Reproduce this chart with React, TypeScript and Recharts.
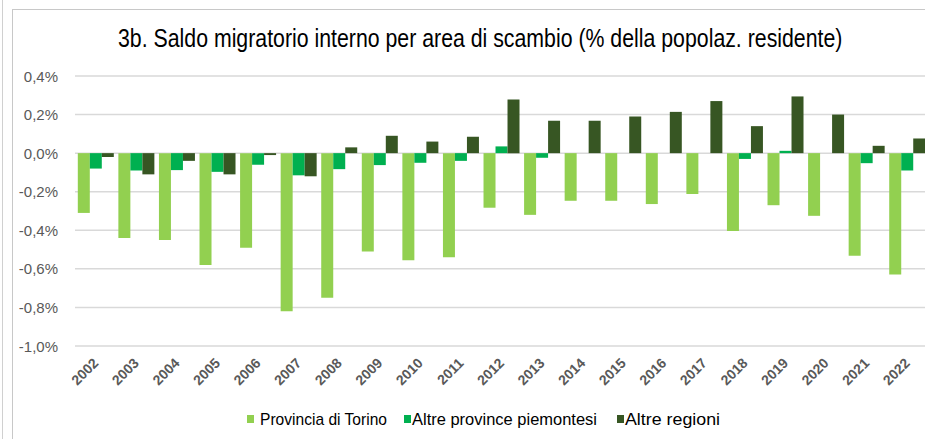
import React, { useLayoutEffect, useRef, useState } from 'react';
import { BarChart, Bar, XAxis, YAxis, CartesianGrid } from 'recharts';

const years = ['2002','2003','2004','2005','2006','2007','2008','2009','2010','2011','2012','2013','2014','2015','2016','2017','2018','2019','2020','2021','2022'];
const provinciaTorino = [-0.31,-0.44,-0.45,-0.58,-0.49,-0.82,-0.75,-0.51,-0.555,-0.54,-0.283,-0.32,-0.247,-0.247,-0.264,-0.212,-0.404,-0.27,-0.325,-0.532,-0.629];
const altreProvince = [-0.08,-0.09,-0.088,-0.097,-0.06,-0.115,-0.083,-0.062,-0.05,-0.04,0.035,-0.024,0,0,0,0,-0.03,0.012,0,-0.052,-0.09];
const altreRegioni = [-0.02,-0.11,-0.04,-0.11,-0.01,-0.12,0.03,0.09,0.06,0.085,0.278,0.168,0.168,0.19,0.214,0.27,0.14,0.294,0.2,0.038,0.076];
const yTicks = [-1.0,-0.8,-0.6,-0.4,-0.2,0,0.2,0.4];
const seriesNames = ['Provincia di Torino','Altre province piemontesi','Altre regioni'];
const title = '3b. Saldo migratorio interno per area di scambio (% della popolaz. residente)';

const COLORS = ['#92d050', '#00b050', '#375623'];
const FONT = "'Liberation Sans Narrow', 'Arial Narrow', 'Liberation Sans', Arial, sans-serif";

const data = years.map((y, i) => ({
  year: y,
  torino: provinciaTorino[i],
  piem: altreProvince[i],
  regioni: altreRegioni[i],
}));

const fmt = (v: number) => v.toFixed(1).replace('.', ',') + '%';

const YTick = (props: any) => {
  const { y, payload } = props;
  return (
    <text x={58} y={y} textAnchor="end" dominantBaseline="central" fontFamily={FONT} fontSize={15} fill="#595959">
      {fmt(payload.value)}
    </text>
  );
};

const XTick = (props: any) => {
  const { x, payload } = props;
  const ax = x + 4;
  const ay = 364;
  return (
    <text x={ax} y={ay} textAnchor="end" transform={`rotate(-45, ${ax}, ${ay})`} fontFamily={FONT} fontSize={14} fontWeight="bold" fill="#595959">
      {payload.value}
    </text>
  );
};

const legendItems = [
  { name: seriesNames[0], color: COLORS[0], sx: 247, tx: 260, w: 127 },
  { name: seriesNames[1], color: COLORS[1], sx: 404, tx: 412, w: 185 },
  { name: seriesNames[2], color: COLORS[2], sx: 617, tx: 625, w: 95 },
];

const TITLE_WIDTH = 724;

function Title() {
  const ref = useRef<HTMLSpanElement>(null);
  const [scale, setScale] = useState(0.85);
  useLayoutEffect(() => {
    if (ref.current) {
      const w = ref.current.scrollWidth;
      if (w > 0) setScale(TITLE_WIDTH / w);
    }
  }, []);
  return (
    <div style={{ position: 'absolute', left: 118, top: 26, width: TITLE_WIDTH, height: 25, overflow: 'visible' }}>
      <span
        ref={ref}
        style={{
          display: 'inline-block',
          whiteSpace: 'nowrap',
          fontFamily: FONT,
          fontSize: 25,
          lineHeight: '25px',
          color: '#000',
          transform: `scaleX(${scale})`,
          transformOrigin: '0 0',
        }}
      >
        {title}
      </span>
    </div>
  );
}

export default function App() {
  return (
    <div style={{ position: 'absolute', left: 0, top: 0, width: 925, height: 439, overflow: 'hidden', background: '#fff' }}>
      <div style={{ position: 'absolute', left: 2, top: 0, width: 1, height: 439, background: '#d0d0d0' }} />
      <div style={{ position: 'absolute', left: 12, top: 9, width: 930, height: 450, border: '1px solid #c8c8c8' }} />
      <div style={{ position: 'absolute', left: 0, top: 0 }}>
        <BarChart
          width={930}
          height={439}
          data={data}
          margin={{ top: 76, right: 3, bottom: 63, left: 0 }}
          barGap={0}
          barCategoryGap="6.9%"
        >
          <CartesianGrid vertical={false} stroke="#d9d9d9" strokeWidth={1.5} />
          <YAxis width={75} domain={[-1.0, 0.4]} ticks={yTicks} axisLine={false} tickLine={false} tick={<YTick />} interval={0} />
          <XAxis dataKey="year" height={30} axisLine={false} tickLine={false} tick={<XTick />} interval={0} />
          <Bar dataKey="torino" fill={COLORS[0]} isAnimationActive={false} />
          <Bar dataKey="piem" fill={COLORS[1]} isAnimationActive={false} />
          <Bar dataKey="regioni" fill={COLORS[2]} isAnimationActive={false} />
        </BarChart>
      </div>
      <Title />
      <svg width={925} height={439} style={{ position: 'absolute', left: 0, top: 0, pointerEvents: 'none' }}>
        {legendItems.map((it) => (
          <g key={it.name}>
            <rect x={it.sx} y={415} width={7} height={8} fill={it.color} />
            <text x={it.tx} y={425} fontFamily={FONT} fontSize={17} fill="#000" textLength={it.w} lengthAdjust="spacingAndGlyphs">{it.name}</text>
          </g>
        ))}
      </svg>
    </div>
  );
}
